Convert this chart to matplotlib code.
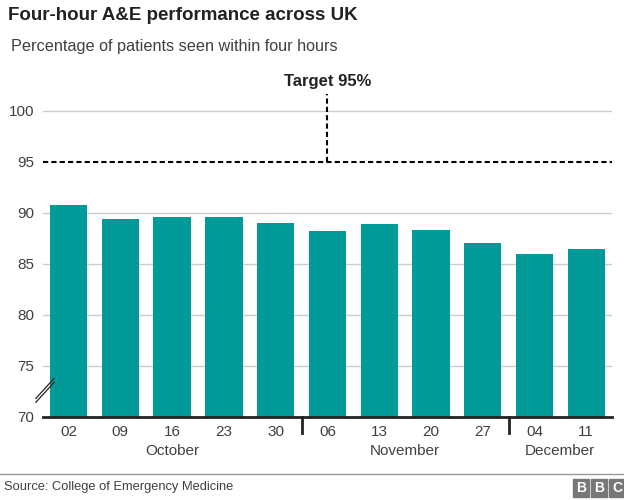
import matplotlib.pyplot as plt
from matplotlib.transforms import blended_transform_factory
from matplotlib.patches import Rectangle

plt.rcParams['font.family'] = ['Liberation Sans', 'DejaVu Sans']

# weekly values, Oct-Dec
days = ['02', '09', '16', '23', '30', '06', '13', '20', '27', '04', '11']
values = [90.8, 89.4, 89.6, 89.6, 89.05, 88.2, 88.95, 88.35, 87.1, 86.0, 86.5]
months = ['October', 'November', 'December']
month_centres = [2, 6.5, 9.5]
month_breaks = [4.5, 8.5]
target = 95

teal = '#009a98'
txt = '#404040'

fig = plt.figure(figsize=(6.24, 5.0), dpi=100)
ax = fig.add_axes([0.0684, 0.166, 0.9126, 0.653])

x = list(range(len(days)))
ax.bar(x, [v - 70 for v in values], bottom=70, width=0.72, color=teal, zorder=2)

ax.set_xlim(-0.5, len(days) - 0.5)
ax.set_ylim(70, 102)
ax.set_yticks([70, 75, 80, 85, 90, 95, 100])
ax.set_yticklabels(['70', '75', '80', '85', '90', '95', '100'])
for yv in [75, 80, 85, 90, 100]:
    ax.axhline(yv, color='#cccccc', lw=1, zorder=1)

# target line
ax.axhline(target, color='black', lw=1.5, ls=(0, (2.5, 1.5)), zorder=3)
ax.plot([5, 5], [target, 101.7], color='black', lw=1.5, ls=(0, (2.5, 1.5)), zorder=3)
ax.text(5, 102.9, 'Target 95%', ha='center', va='center', fontsize=12,
        fontweight='bold', color='#222222', clip_on=False)

for s in ['top', 'right', 'left']:
    ax.spines[s].set_visible(False)
ax.spines['bottom'].set_linewidth(2)
ax.spines['bottom'].set_color('#222222')

ax.tick_params(axis='y', length=0, labelsize=11, labelcolor=txt, pad=6)
ax.set_xticks(x)
ax.set_xticklabels(days)
ax.tick_params(axis='x', length=0, labelsize=11, labelcolor=txt, pad=6)

trans = blended_transform_factory(ax.transData, ax.transAxes)
for b in month_breaks:
    ax.plot([b, b], [0, -0.048], color='#222222', lw=2, transform=trans, clip_on=False)
for m, c in zip(months, month_centres):
    ax.text(c, -0.103, m, ha='center', va='center', fontsize=11, color=txt, transform=trans)

# axis break marks
for dy in [0, 0.012]:
    ax.plot([-0.012, 0.02], [0.045 + dy, 0.106 + dy], color='#222222', lw=0.9,
            transform=ax.transAxes, clip_on=False)

fig.text(0.013, 0.968, 'Four-hour A&E performance across UK', fontsize=13.5,
         fontweight='bold', color='#222222', va='center')
fig.text(0.018, 0.906, 'Percentage of patients seen within four hours', fontsize=11.7,
         color=txt, va='center')

fig.add_artist(plt.Line2D([0, 1], [0.052, 0.052], color='#999999', lw=1,
                          transform=fig.transFigure))
fig.text(0.007, 0.026, 'Source: College of Emergency Medicine', fontsize=9.3,
         color=txt, va='center')

# BBC blocks
for i, letter in enumerate('BBC'):
    x0 = (573 + i * 18) / 624
    fig.add_artist(Rectangle((x0, 0.006), 16 / 624, 0.036, color='#777777',
                             transform=fig.transFigure))
    fig.text(x0 + 8 / 624, 0.024, letter, fontsize=10, fontweight='bold',
             color='white', ha='center', va='center')

fig.savefig('out.png', dpi=100)
